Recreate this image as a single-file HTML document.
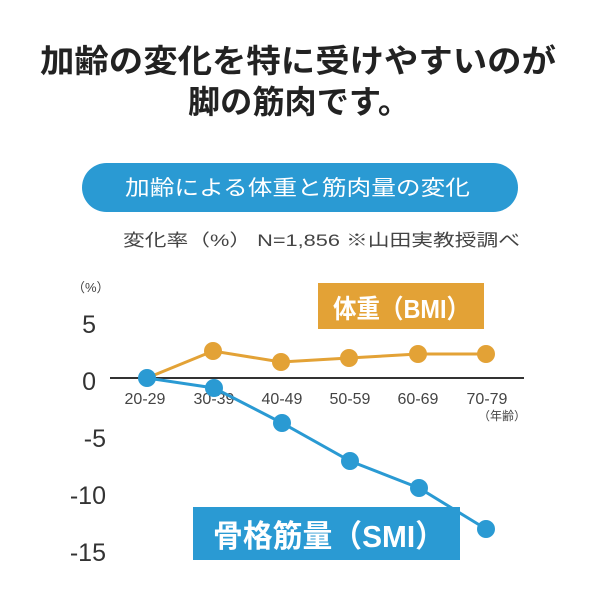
<!DOCTYPE html>
<html><head><meta charset="utf-8"><style>
body{margin:0;width:600px;height:600px;background:#fff;overflow:hidden;font-family:"Liberation Sans","Noto Sans CJK JP",sans-serif;}
</style></head><body>
<svg width="600" height="600" xmlns="http://www.w3.org/2000/svg" font-family="'Liberation Sans','Noto Sans CJK JP',sans-serif">
<text x="40" y="72" font-size="32" font-weight="bold" fill="#222" textLength="516" lengthAdjust="spacingAndGlyphs">加齢の変化を特に受けやすいのが</text>
<text x="188" y="113" font-size="32" font-weight="bold" fill="#222" textLength="222" lengthAdjust="spacingAndGlyphs">脚の筋肉です。</text>
<rect x="82" y="163" width="436" height="49" rx="24.5" fill="#2a9ad3"/>
<text x="125" y="195" font-size="21" fill="#fff" textLength="345" lengthAdjust="spacingAndGlyphs">加齢による体重と筋肉量の変化</text>
<text x="123" y="246" font-size="17" fill="#444" textLength="397" lengthAdjust="spacingAndGlyphs">変化率（%） N=1,856 ※山田実教授調べ</text>
<text x="72" y="292" font-size="13" fill="#444">（%）</text>
<g font-size="25" fill="#333" text-anchor="end">
<text x="96" y="333">5</text><text x="96" y="390">0</text><text x="106" y="447">-5</text><text x="106" y="504">-10</text><text x="106" y="561">-15</text>
</g>
<line x1="110" y1="378" x2="524" y2="378" stroke="#333" stroke-width="2"/>
<g font-size="16" fill="#444" text-anchor="middle">
<text x="145" y="404">20-29</text><text x="214" y="404">30-39</text><text x="282" y="404">40-49</text><text x="350" y="404">50-59</text><text x="418" y="404">60-69</text><text x="487" y="404">70-79</text>
</g>
<text x="526" y="420" font-size="12" fill="#444" text-anchor="end">（年齢）</text>
<rect x="318" y="283" width="166" height="46" fill="#e3a236"/>
<text x="333" y="318" font-size="26" font-weight="bold" fill="#fff" textLength="137" lengthAdjust="spacingAndGlyphs">体重（BMI）</text>
<polyline points="147,378 213,351 281,362 349,358 418,354 486,354" fill="none" stroke="#e3a236" stroke-width="3"/>
<g fill="#e3a236"><circle cx="213" cy="351" r="9"/><circle cx="281" cy="362" r="9"/><circle cx="349" cy="358" r="9"/><circle cx="418" cy="354" r="9"/><circle cx="486" cy="354" r="9"/></g>
<polyline points="147,378 214,388 282,423 350,461 419,488 486,529" fill="none" stroke="#2a9ad3" stroke-width="3"/>
<g fill="#2a9ad3"><circle cx="147" cy="378" r="9"/><circle cx="214" cy="388" r="9"/><circle cx="282" cy="423" r="9"/><circle cx="350" cy="461" r="9"/><circle cx="419" cy="488" r="9"/><circle cx="486" cy="529" r="9"/></g>
<rect x="193" y="507" width="267" height="53" fill="#2a9ad3"/>
<text x="213" y="547" font-size="31" font-weight="bold" fill="#fff" textLength="232" lengthAdjust="spacingAndGlyphs">骨格筋量（SMI）</text>
</svg>
</body></html>
